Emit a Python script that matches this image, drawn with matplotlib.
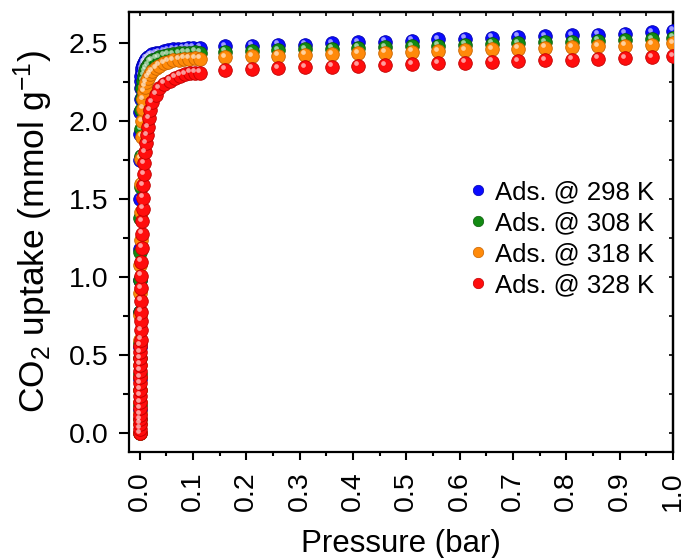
import matplotlib
matplotlib.use('Agg')
import matplotlib.pyplot as plt
import matplotlib.ticker as mticker
from matplotlib.transforms import ScaledTranslation

plt.rcParams['font.family'] = ['Liberation Sans', 'DejaVu Sans']
plt.rcParams['mathtext.default'] = 'regular'

# shared pressure points above 0.1 bar
p_high = [0.16, 0.21, 0.26, 0.31, 0.36, 0.41, 0.46, 0.51, 0.56, 0.61,
          0.66, 0.71, 0.76, 0.81, 0.86, 0.91, 0.96, 1.0]

# 298 K
blue_p_low = [0.0000, 0.0001, 0.0002, 0.0003, 0.0004, 0.0005, 0.0006, 0.0008, 0.0010,
              0.0012, 0.0015, 0.0018, 0.0022, 0.0027, 0.0033, 0.0040, 0.0050, 0.0062,
              0.0077, 0.0095, 0.012, 0.015, 0.019, 0.024, 0.030, 0.037, 0.045, 0.054,
              0.063, 0.072, 0.081, 0.090, 0.100, 0.113]
blue_q_low = [0.00, 0.15, 0.35, 0.55, 0.78, 0.98, 1.18, 1.50, 1.75, 1.92, 2.06, 2.14,
              2.21, 2.26, 2.29, 2.32, 2.34, 2.36, 2.375, 2.385, 2.40, 2.41, 2.42, 2.43,
              2.435, 2.44, 2.45, 2.455, 2.46, 2.46, 2.465, 2.47, 2.47, 2.47]
blue_q_high = [2.48, 2.485, 2.49, 2.49, 2.50, 2.505, 2.51, 2.515, 2.525, 2.53,
               2.535, 2.54, 2.545, 2.55, 2.555, 2.56, 2.57, 2.58]

# 308 K
green_p_low = [0.0000, 0.0001, 0.0002, 0.0003, 0.0004, 0.0005, 0.0006, 0.0008, 0.0010,
               0.0012, 0.0015, 0.0018, 0.0022, 0.0027, 0.0033, 0.0040, 0.0050, 0.0062,
               0.0077, 0.0095, 0.012, 0.015, 0.019, 0.024, 0.030, 0.037, 0.045, 0.054,
               0.063, 0.073, 0.083, 0.093, 0.103, 0.113]
green_q_low = [0.00, 0.09, 0.18, 0.28, 0.38, 0.48, 0.58, 0.78, 0.98, 1.16, 1.38, 1.58,
               1.78, 1.95, 2.07, 2.15, 2.21, 2.26, 2.29, 2.32, 2.34, 2.36, 2.38, 2.39,
               2.40, 2.41, 2.42, 2.425, 2.43, 2.435, 2.44, 2.44, 2.445, 2.44]
green_q_high = [2.445, 2.45, 2.455, 2.46, 2.465, 2.47, 2.475, 2.48, 2.485, 2.49,
                2.495, 2.50, 2.505, 2.51, 2.515, 2.52, 2.525, 2.535]

# 318 K
orange_p_low = [0.0000, 0.0001, 0.0002, 0.0003, 0.0004, 0.0005, 0.0006, 0.0008, 0.0010,
                0.0012, 0.0015, 0.0018, 0.0022, 0.0027, 0.0033, 0.0040, 0.0048, 0.0058,
                0.0070, 0.0085, 0.0100, 0.012, 0.015, 0.019, 0.024, 0.030, 0.037, 0.045,
                0.054, 0.063, 0.073, 0.083, 0.093, 0.103, 0.113]
orange_q_low = [0.00, 0.06, 0.13, 0.20, 0.28, 0.36, 0.44, 0.60, 0.76, 0.90, 1.08, 1.24,
                1.42, 1.60, 1.76, 1.90, 2.00, 2.08, 2.14, 2.19, 2.22, 2.25, 2.28, 2.30,
                2.32, 2.34, 2.355, 2.37, 2.38, 2.39, 2.395, 2.40, 2.40, 2.405, 2.40]
orange_q_high = [2.41, 2.415, 2.42, 2.425, 2.43, 2.435, 2.44, 2.445, 2.45, 2.455,
                 2.46, 2.465, 2.47, 2.475, 2.48, 2.485, 2.49, 2.50]

# 328 K
red_p_low = [0.0000, 0.0001, 0.0002, 0.0003, 0.0004, 0.0005, 0.0006, 0.0007, 0.0008,
             0.0009, 0.0010, 0.0011, 0.0012, 0.0013, 0.0014, 0.0015, 0.0016, 0.0018,
             0.0020, 0.0022, 0.0024, 0.0027, 0.0030, 0.0034, 0.0038, 0.0043, 0.0048,
             0.0054, 0.0060, 0.0068, 0.0077, 0.0088, 0.0100, 0.0115, 0.0130, 0.0150,
             0.0175, 0.020, 0.024, 0.030, 0.037, 0.046, 0.056, 0.066, 0.075, 0.085,
             0.094, 0.104, 0.113]
red_q_low = [0.00, 0.03, 0.06, 0.09, 0.12, 0.16, 0.20, 0.24, 0.28, 0.32, 0.36, 0.40,
             0.44, 0.48, 0.52, 0.56, 0.60, 0.66, 0.72, 0.78, 0.85, 0.93, 1.01, 1.10,
             1.19, 1.28, 1.36, 1.44, 1.51, 1.59, 1.66, 1.73, 1.80, 1.86, 1.91, 1.96,
             2.02, 2.07, 2.12, 2.17, 2.21, 2.24, 2.26, 2.28, 2.29, 2.30, 2.31, 2.31, 2.31]
red_q_high = [2.33, 2.335, 2.34, 2.345, 2.35, 2.355, 2.36, 2.365, 2.37, 2.375,
              2.38, 2.385, 2.39, 2.395, 2.40, 2.405, 2.41, 2.415]

labels = ['Ads. @ 298 K', 'Ads. @ 308 K', 'Ads. @ 318 K', 'Ads. @ 328 K']
colors = ['#0a0aff', '#128a12', '#ff8a0a', '#ff0d0d']
edges = ['#0000b0', '#0b5c0b', '#c86400', '#c00000']

series = [
    (blue_p_low + p_high, blue_q_low + blue_q_high),
    (green_p_low + p_high, green_q_low + green_q_high),
    (orange_p_low + p_high, orange_q_low + orange_q_high),
    (red_p_low + p_high, red_q_low + red_q_high),
]

fig = plt.figure(figsize=(6.87, 5.58), dpi=100)
ax = fig.add_axes([0.1878, 0.19, 0.7918, 0.7885])

# little white shine on each ball, shifted up-left
shine = ax.transData + ScaledTranslation(-2 / 100, 2.5 / 100, fig.dpi_scale_trans)

for (p, q), c, ec in zip(series, colors, edges):
    ax.plot(p, q, 'o', ms=9.8, mfc=c, mec=ec, mew=0.6, zorder=3)
    ax.plot(p, q, 'o', ms=3.4, mfc='white', mec='none', alpha=0.6,
            transform=shine, zorder=3)

# legend handles
handles = [plt.Line2D([], [], ls='none', marker='o', ms=7.5, mfc=c, mec=ec, mew=0.5)
           for c, ec in zip(colors, edges)]
ax.legend(handles, labels, loc='center left', bbox_to_anchor=(0.583, 0.485),
          frameon=False, fontsize=18.5, handlelength=0.7, handletextpad=0.3,
          labelspacing=0.27, borderpad=0.4)

ax.set_xlim(-0.02, 1.0)
ax.set_ylim(-0.12, 2.70)
ax.xaxis.set_major_locator(mticker.MultipleLocator(0.1))
ax.xaxis.set_minor_locator(mticker.MultipleLocator(0.05))
ax.yaxis.set_major_locator(mticker.MultipleLocator(0.5))
ax.yaxis.set_minor_locator(mticker.MultipleLocator(0.25))
ax.xaxis.set_major_formatter(mticker.FormatStrFormatter('%.1f'))
ax.yaxis.set_major_formatter(mticker.FormatStrFormatter('%.1f'))

ax.tick_params(axis='y', which='major', direction='out', length=7, width=1.5,
               labelsize=20.5, pad=8, right=False)
ax.tick_params(axis='y', which='minor', direction='out', length=4.3, width=1.5,
               right=False)
ax.tick_params(axis='x', which='major', direction='out', length=6, width=1.5,
               labelsize=20.5, labelrotation=90, pad=8, top=False)
ax.tick_params(axis='x', which='minor', direction='out', length=3, width=1.5,
               top=False)

# inward ticks on top and right
axt = ax.secondary_xaxis('top')
axt.xaxis.set_major_locator(mticker.MultipleLocator(0.1))
axt.xaxis.set_minor_locator(mticker.MultipleLocator(0.05))
axt.tick_params(which='both', direction='in', length=3, width=1.2, labeltop=False)
axr = ax.secondary_yaxis('right')
axr.yaxis.set_major_locator(mticker.MultipleLocator(0.5))
axr.yaxis.set_minor_locator(mticker.MultipleLocator(0.25))
axr.tick_params(which='both', direction='in', length=3, width=1.2, labelright=False)

for s in ax.spines.values():
    s.set_linewidth(1.6)
axt.spines['top'].set_linewidth(1.6)
axr.spines['right'].set_linewidth(1.6)

ax.set_xlabel('Pressure (bar)', fontsize=22.5)
ax.set_ylabel(r'CO$_2$ uptake (mmol g$^{-1}$)', fontsize=25.5)
ax.xaxis.set_label_coords(0.5, -0.176)
ax.yaxis.set_label_coords(-0.136, 0.5)

fig.savefig('out.png', dpi=100)
